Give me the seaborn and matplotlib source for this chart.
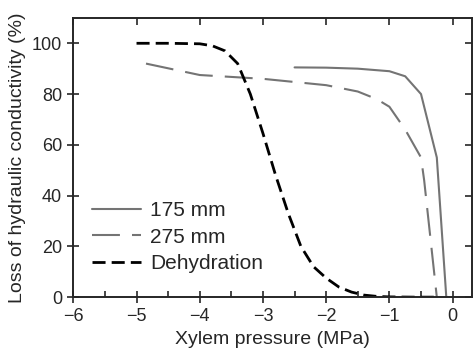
import numpy as np
import pandas as pd
import matplotlib
matplotlib.use("Agg")
import matplotlib.pyplot as plt
import seaborn as sns
from matplotlib.ticker import MultipleLocator

# values
p_175 = [-2.5, -2.0, -1.5, -1.0, -0.75, -0.5, -0.25, -0.1]
plc_175 = [90.5, 90.4, 90.0, 89.0, 87.0, 80.0, 55.0, 0.0]

p_275 = [-4.85, -4.0, -3.0, -2.0, -1.5, -1.2, -1.0, -0.75, -0.5, -0.45, -0.25]
plc_275 = [92.0, 87.5, 86.0, 83.5, 81.0, 78.0, 75.0, 66.0, 55.0, 46.0, 0.0]

p_dehy = [-5.0, -4.5, -4.0, -3.8, -3.6, -3.4, -3.2, -3.0, -2.8, -2.6, -2.4,
          -2.2, -2.0, -1.8, -1.6, -1.4, -1.2, -1.0, -0.6, -0.2]
plc_dehy = [100.0, 100.0, 99.8, 99.0, 97.0, 92.0, 80.0, 64.5, 48.0, 33.0, 20.0,
            12.0, 7.5, 4.0, 2.0, 0.8, 0.3, 0.1, 0.0, 0.0]

sns.set_style("ticks")
plt.rcParams['font.family'] = ['Liberation Sans', 'DejaVu Sans']

fig, ax = plt.subplots(figsize=(4.73, 3.58), dpi=100)

gray = '#747474'
dash_275 = [13.4, 5.8]
dash_dehy = [4.7, 2.2]
sns.lineplot(x=p_175, y=plc_175, ax=ax, sort=False, color=gray, lw=1.5,
             label='175 mm')
sns.lineplot(x=p_275, y=plc_275, ax=ax, sort=False, color=gray, lw=1.5,
             label='275 mm')
sns.lineplot(x=p_dehy, y=plc_dehy, ax=ax, sort=False, color='black', lw=2.0,
             label='Dehydration')
ax.lines[1].set_dashes(dash_275)
ax.lines[2].set_dashes(dash_dehy)

ax.set_xlim(-6, 0.3)
ax.set_ylim(0, 110)
ax.xaxis.set_major_locator(MultipleLocator(1))
ax.xaxis.set_minor_locator(MultipleLocator(0.5))
ax.yaxis.set_major_locator(MultipleLocator(20))
ax.set_xticklabels([f"{int(v)}".replace('-', '\u2212') for v in ax.get_xticks()])
ax.tick_params(which='major', direction='in', length=5, width=1.2,
               top=True, right=True, labelsize=13, pad=8)
ax.tick_params(axis='x', which='minor', direction='in', length=4, width=1.2,
               top=False)
ax.tick_params(axis='y', which='minor', left=False, right=False)

# bottom / left ticks cross the spine, top / right point inward
for t in ax.xaxis.get_major_ticks():
    t.tick1line.set_marker('|')
    t.tick1line.set_markersize(8)
for t in ax.yaxis.get_major_ticks():
    t.tick1line.set_marker('_')
    t.tick1line.set_markersize(8)

for s in ax.spines.values():
    s.set_linewidth(1.4)

ax.set_xlabel('Xylem pressure (MPa)', fontsize=14)
ax.set_ylabel('Loss of hydraulic conductivity (%)', fontsize=14)

leg = ax.legend(loc='lower left', bbox_to_anchor=(0.0, 0.02), frameon=False,
                fontsize=15, handlelength=2.35, labelspacing=0.35,
                handletextpad=0.45)
leg.get_lines()[1].set_dashes(dash_275)
leg.get_lines()[2].set_dashes(dash_dehy)

plt.subplots_adjust(left=0.155, right=0.997, top=0.95, bottom=0.17)
fig.savefig('out.png', dpi=100)
